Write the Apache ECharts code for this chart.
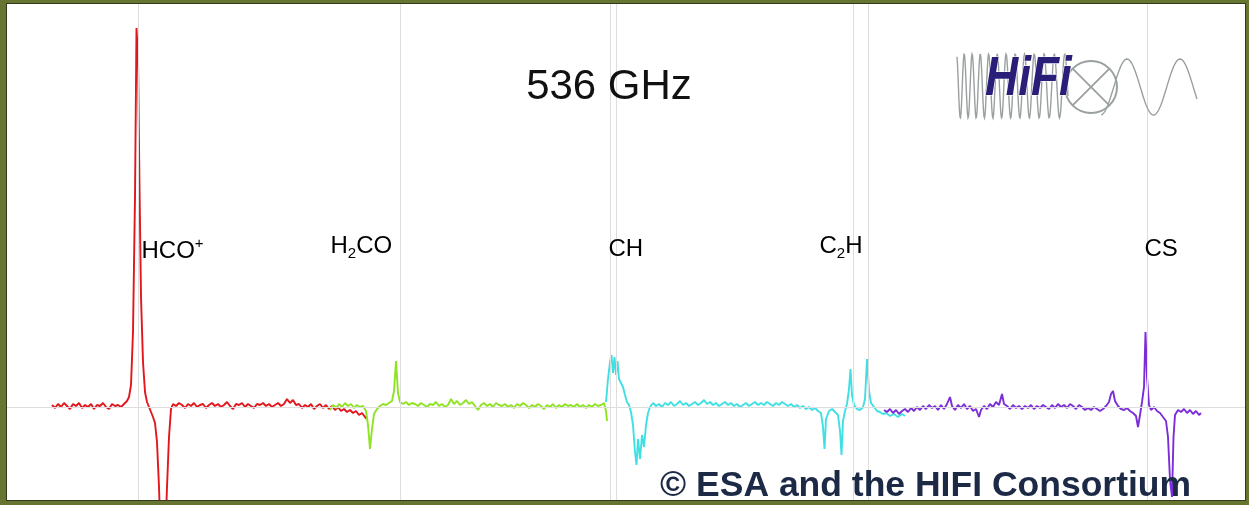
<!DOCTYPE html>
<html><head><meta charset="utf-8">
<script src="https://cdn.jsdelivr.net/npm/echarts@6/dist/echarts.min.js"></script>
<style>
html,body{margin:0;padding:0;width:1249px;height:505px;background:#66752f;overflow:hidden}
#chart{position:absolute;left:7px;top:4px;width:1238px;height:496px;background:#fff;box-shadow:0 0 0 1px #33381f}
</style></head><body><div id="chart"></div>
<script>
// ---- data (x = spectrometer channel, y = antenna temperature, arbitrary units) ----
const titleText = '536 GHz';
const creditText = '\u00A9 ESA and the HIFI Consortium';
const lineNames = ['HCO+', 'H2CO', 'CH', 'C2H', 'CS'];
const lineLabelAnchors = [[141, 1.56], [330, 1.61], [608, 1.58], [819, 1.61], [1144, 1.58]];
const lineRestChannels = [138, 400, 610, 616, 853, 868, 1147];

const redSpectrum = [[52,0.02],[55,-0.01],[58,0.03],[61,0.00],[64,0.04],[67,0.01],[70,-0.02],[73,0.03],[76,0.01],[79,0.04],[82,-0.01],[85,0.02],[88,0.00],[91,0.03],[94,-0.02],[97,0.02],[100,0.01],[103,0.04],[106,0.00],[109,-0.02],[112,0.03],[115,0.01],[118,0.02],[121,0.00],[124,0.03],[127,0.06],[129,0.10],[131,0.22],[133,0.75],[135,2.1],[136.5,3.79],[138,3.5],[139.5,2.2],[141,1.1],[143,0.45],[145,0.15],[147,0.05],[149,0.00],[151,-0.05],[153,-0.10],[155,-0.16],[157,-0.35],[159,-0.8],[161,-1.4],[163,-1.6],[165,-1.4],[167,-0.8],[169,-0.3],[171,-0.02],[173,0.03],[176,0.01],[179,0.04],[182,0.02],[185,-0.01],[188,0.03],[191,0.01],[194,0.04],[197,0.00],[200,0.02],[203,0.03],[206,-0.01],[209,0.02],[212,0.04],[215,0.01],[218,0.03],[221,0.00],[224,0.02],[227,0.05],[230,0.01],[233,-0.02],[236,0.03],[239,0.02],[242,0.04],[245,0.00],[248,0.03],[251,0.01],[254,-0.01],[257,0.03],[260,0.02],[263,0.04],[266,0.01],[269,0.03],[272,0.00],[275,0.02],[278,0.04],[281,0.01],[284,0.03],[287,0.08],[290,0.04],[293,0.07],[296,0.02],[299,0.03],[302,-0.01],[305,0.02],[308,0.00],[311,0.03],[314,-0.02],[317,0.01],[320,0.03],[323,-0.01],[326,0.02],[329,-0.02],[332,0.01],[335,-0.03],[338,0.00],[341,-0.04],[344,-0.02],[347,-0.05],[350,-0.03],[353,-0.06],[356,-0.04],[359,-0.08],[362,-0.06],[365,-0.10],[367,-0.12]];

const greenSpectrum = [[330,-0.03],[333,0.02],[336,-0.01],[339,0.03],[342,0.00],[345,0.04],[348,0.01],[351,0.03],[354,-0.01],[357,0.02],[360,0.00],[363,0.01],[366,-0.04],[368,-0.18],[370,-0.42],[372,-0.22],[374,-0.07],[377,-0.02],[380,0.01],[383,0.03],[386,0.02],[389,0.04],[392,0.06],[394,0.16],[396,0.46],[398,0.14],[400,0.05],[403,0.03],[406,0.05],[409,0.02],[412,0.04],[415,0.03],[418,0.01],[421,0.04],[424,0.02],[427,0.00],[430,0.03],[433,0.02],[436,0.05],[439,0.01],[442,0.03],[445,0.00],[448,0.02],[451,0.08],[454,0.03],[457,0.06],[460,0.02],[463,0.04],[466,0.07],[469,0.03],[472,0.05],[475,0.01],[478,-0.03],[481,0.02],[484,0.04],[487,0.01],[490,0.03],[493,0.00],[496,0.04],[499,0.02],[502,0.01],[505,0.03],[508,0.00],[511,0.02],[514,-0.01],[517,0.03],[520,0.01],[523,0.04],[526,0.02],[529,-0.01],[532,0.02],[535,0.00],[538,0.03],[541,0.01],[544,-0.02],[547,0.02],[550,0.00],[553,0.03],[556,-0.01],[559,0.02],[562,0.00],[565,0.03],[568,0.01],[571,0.02],[574,0.00],[577,0.03],[580,0.00],[583,0.02],[586,-0.01],[589,0.02],[592,0.00],[595,0.03],[598,0.01],[601,0.02],[604,0.04],[606,-0.04],[607,-0.14]];

const cyanSpectrum = [[606,0.05],[608,0.28],[610,0.45],[611.5,0.52],[613,0.34],[614.5,0.5],[616,0.32],[617.5,0.46],[619,0.28],[621,0.24],[623,0.2],[625,0.12],[627,0.05],[629,0.02],[631,-0.05],[633,-0.18],[635,-0.45],[636.5,-0.58],[638,-0.32],[640,-0.52],[642,-0.28],[644,-0.4],[646,-0.18],[648,-0.06],[650,0.0],[653,0.04],[656,0.01],[659,0.03],[662,0.00],[665,0.04],[668,0.02],[671,0.05],[674,0.01],[677,0.03],[680,0.06],[683,0.02],[686,0.04],[689,0.01],[692,0.03],[695,0.05],[698,0.02],[701,0.04],[704,0.07],[707,0.03],[710,0.05],[713,0.02],[716,0.04],[719,0.01],[722,0.03],[725,0.05],[728,0.02],[731,0.04],[734,0.01],[737,0.03],[740,0.00],[743,0.02],[746,0.04],[749,0.01],[752,0.03],[755,0.05],[758,0.02],[761,0.04],[764,0.02],[767,0.05],[770,0.03],[773,0.01],[776,0.04],[779,0.02],[782,0.05],[785,0.03],[788,0.01],[791,0.03],[794,0.00],[797,0.02],[800,-0.01],[803,0.01],[806,-0.02],[809,0.00],[812,-0.03],[815,-0.01],[818,-0.04],[821,-0.06],[823,-0.2],[824.5,-0.42],[826,-0.12],[829,-0.04],[832,-0.02],[835,-0.05],[838,-0.08],[840,-0.24],[841.5,-0.48],[843,-0.14],[845,-0.04],[847,0.03],[849,0.18],[850.5,0.38],[852,0.12],[854,0.02],[857,-0.02],[860,-0.03],[863,0.00],[865,0.08],[867,0.48],[869,0.16],[871,0.04],[874,0.00],[877,-0.04],[880,-0.05],[883,-0.07],[886,-0.06],[890,-0.09],[894,-0.07],[898,-0.1],[902,-0.07],[905,-0.09]];

const purpleSpectrum = [[884,-0.03],[887,-0.05],[890,-0.02],[893,-0.06],[896,-0.03],[899,-0.07],[902,-0.04],[905,-0.02],[908,-0.05],[911,-0.01],[914,-0.04],[917,0.00],[920,-0.03],[923,0.01],[926,-0.02],[929,0.02],[932,-0.01],[935,0.01],[938,-0.03],[941,0.02],[944,-0.02],[947,0.03],[950,0.10],[952,0.01],[955,-0.03],[958,0.02],[961,-0.01],[964,0.03],[967,-0.02],[970,0.01],[973,-0.04],[976,-0.02],[979,-0.10],[981,-0.03],[984,0.01],[987,-0.02],[990,0.03],[993,0.00],[996,0.05],[999,0.02],[1002,0.13],[1004,0.03],[1007,0.01],[1010,-0.02],[1013,0.02],[1016,-0.01],[1019,0.01],[1022,-0.02],[1025,0.01],[1028,-0.01],[1031,0.02],[1034,-0.02],[1037,0.01],[1040,-0.01],[1043,0.02],[1046,0.00],[1049,-0.02],[1052,0.02],[1055,-0.01],[1058,0.03],[1061,0.00],[1064,0.02],[1067,-0.01],[1070,0.03],[1073,0.01],[1076,-0.02],[1079,0.02],[1082,0.00],[1085,-0.03],[1088,-0.01],[1091,-0.03],[1094,0.00],[1097,-0.02],[1100,-0.04],[1103,-0.02],[1106,0.01],[1109,0.05],[1111,0.13],[1113,0.16],[1115,0.06],[1118,0.01],[1121,-0.02],[1124,-0.03],[1127,-0.01],[1130,-0.04],[1133,-0.06],[1136,-0.09],[1138,-0.2],[1140,-0.08],[1142,0.05],[1144,0.2],[1145.5,0.75],[1147,0.3],[1149,0.02],[1151,-0.03],[1154,0.0],[1157,-0.04],[1160,-0.06],[1163,-0.1],[1166,-0.14],[1168,-0.3],[1170,-0.73],[1172,-0.9],[1173.5,-0.3],[1175,-0.08],[1178,-0.03],[1181,-0.05],[1184,-0.02],[1187,-0.06],[1190,-0.03],[1193,-0.07],[1196,-0.04],[1199,-0.08],[1201,-0.06]];

// ---- chart ----
const chart = echarts.init(document.getElementById('chart'), null, {renderer: 'canvas'});
const FONT = '"Liberation Sans", Arial, Helvetica, sans-serif';

function richName(n) {
  return n.replace(/(\d)/g, '{sub|$1}').replace(/\+/g, '{sup|+}');
}

// HIFI logo (decoration)
const OX = -7, OY = -4; // page -> chart offset
const waveL = [];
let ph = -Math.PI / 2;
for (let x = 957; x <= 1068; x += 0.5) {
  const p = 7.6 + (x - 957) * 0.028;
  ph += 2 * Math.PI * 0.5 / p;
  waveL.push([x + OX, 86 + 32 * Math.sin(ph) + OY]);
}
const waveR = [];
for (let x = 1101; x <= 1197; x += 1) {
  waveR.push([x + OX, 87 - 28 * Math.cos(2 * Math.PI * (x - 1127) / 53) + OY]);
}
const cx = 1091 + OX, cy = 87 + OY, r = 26, d = r * 0.7071;

const seriesStyle = (name, color, data) => ({
  name, type: 'line', data, showSymbol: false, clip: true, z: 3,
  lineStyle: {color, width: 1.9}, itemStyle: {color}, animation: false
});

chart.setOption({
  animation: false,
  grid: {left: 0, right: 0, top: 0, bottom: 0},
  xAxis: {type: 'value', min: 7, max: 1245, show: false},
  yAxis: {type: 'value', min: -0.93, max: 4.03, show: false},
  series: [
    {
      type: 'line', data: [], silent: true, z: 1,
      markLine: {
        silent: true, symbol: 'none', animation: false,
        label: {show: false},
        lineStyle: {color: '#dedede', width: 1, type: 'solid'},
        data: [{yAxis: 0}].concat(lineRestChannels.map(c => ({xAxis: c})))
      }
    },
    seriesStyle('red', '#e3161c', redSpectrum),
    seriesStyle('green', '#8fe324', greenSpectrum),
    seriesStyle('cyan', '#3fe0e3', cyanSpectrum),
    seriesStyle('purple', '#7b2ed8', purpleSpectrum),
    {
      type: 'scatter', symbolSize: 1, itemStyle: {color: 'rgba(255,255,255,0)'}, silent: true, z: 6,
      data: lineNames.map((n, i) => ({name: n, value: lineLabelAnchors[i]})),
      label: {
        show: true, position: 'right', distance: 0, opacity: 1,
        formatter: p => richName(p.name),
        color: '#000', fontSize: 24, fontFamily: FONT, lineHeight: 30, textBorderWidth: 0,
        rich: {
          sub: {fontSize: 15, fontFamily: FONT, color: '#000', verticalAlign: 'bottom', lineHeight: 30},
          sup: {fontSize: 15, fontFamily: FONT, color: '#000', verticalAlign: 'top', lineHeight: 30}
        }
      }
    }
  ],
  graphic: [
    {type: 'text', silent: true, z: 10, style: {text: titleText, x: 609 + OX, y: 87 + OY, textAlign: 'center', textVerticalAlign: 'middle', font: '42px ' + FONT, fill: '#111'}},
    {type: 'text', silent: true, z: 10, style: {text: creditText, x: 660 + OX, y: 486 + OY, textAlign: 'left', textVerticalAlign: 'middle', font: 'bold 35.5px ' + FONT, fill: '#1c2a46'}},
    {type: 'polyline', silent: true, z: 8, shape: {points: waveL}, style: {stroke: '#9aa0a0', lineWidth: 1.4, fill: null}},
    {type: 'polyline', silent: true, z: 8, shape: {points: waveR}, style: {stroke: '#9aa0a0', lineWidth: 1.4, fill: null}},
    {type: 'circle', silent: true, z: 8, shape: {cx, cy, r}, style: {stroke: '#9aa0a0', lineWidth: 2, fill: null}},
    {type: 'line', silent: true, z: 8, shape: {x1: cx - d, y1: cy - d, x2: cx + d, y2: cy + d}, style: {stroke: '#9aa0a0', lineWidth: 1.8}},
    {type: 'line', silent: true, z: 8, shape: {x1: cx - d, y1: cy + d, x2: cx + d, y2: cy - d}, style: {stroke: '#9aa0a0', lineWidth: 1.8}},
    {type: 'text', silent: true, z: 9, x: 985 + OX, y: 80 + OY, scaleX: 0.82, style: {text: 'HiFi', x: 0, y: 0, textAlign: 'left', textVerticalAlign: 'middle', font: 'italic bold 56px ' + FONT, fill: '#2a1f78', stroke: '#ffffff', lineWidth: 1}}
  ]
});
</script></body></html>
